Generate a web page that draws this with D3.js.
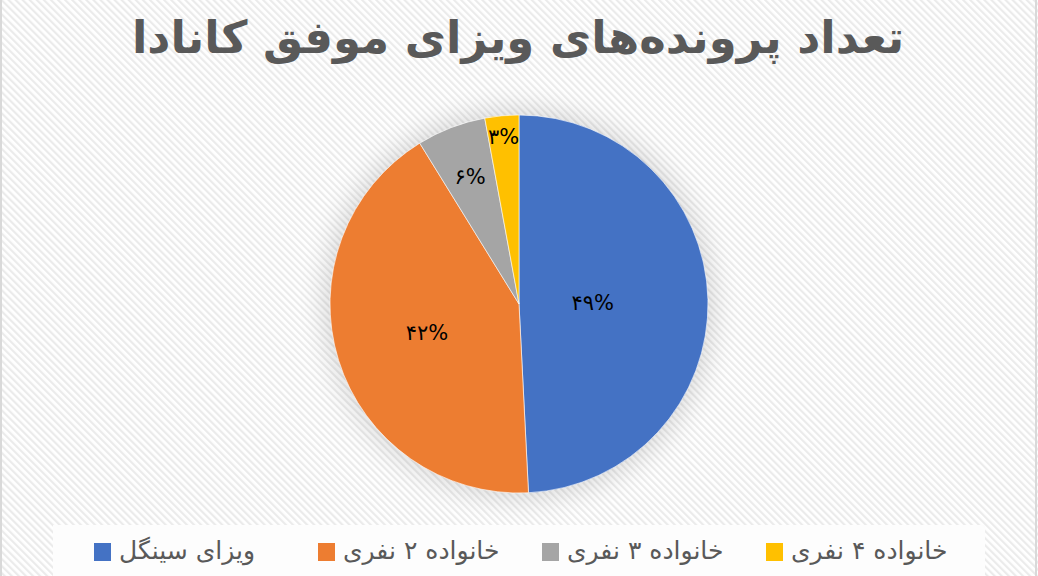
<!DOCTYPE html>
<html><head><meta charset="utf-8">
<script src="https://cdn.jsdelivr.net/npm/d3@7"></script>
<style>html,body{margin:0;padding:0;background:#fff;}svg{display:block;}</style>
</head><body>
<svg id="c" width="1038" height="576"></svg>
<script>
const title = "تعداد پرونده‌های ویزای موفق کانادا";
const categories = ["ویزای سینگل", "خانواده ۲ نفری", "خانواده ۳ نفری", "خانواده ۴ نفری"];
const values = [49.2, 42.0, 5.9, 2.9];
const labels = ["۴۹%", "۴۲%", "۶%", "۳%"];
const colors = ["#4472C4", "#ED7D31", "#A5A5A5", "#FFC000"];

const W = 1038, H = 576;
const svg = d3.select("#c");
const defs = svg.append("defs");
const pat = defs.append("pattern").attr("id","stripes").attr("width",5).attr("height",5)
  .attr("patternUnits","userSpaceOnUse").attr("patternTransform","rotate(-45)");
pat.append("rect").attr("width",5).attr("height",5).attr("fill","#ffffff");
pat.append("rect").attr("width",2.2).attr("height",5).attr("fill","#ebebeb");
const blur = defs.append("filter").attr("id","glow").attr("x","-50%").attr("y","-50%").attr("width","200%").attr("height","200%");
blur.append("feGaussianBlur").attr("stdDeviation",14);

svg.append("rect").attr("x",0).attr("y",0).attr("width",W).attr("height",H).attr("fill","url(#stripes)");
svg.append("rect").attr("x",1).attr("y",-2).attr("width",W-3).attr("height",H+4)
  .attr("fill","none").attr("stroke","#d9d9d9").attr("stroke-width",2);

svg.append("text").attr("x",518).attr("y",53).attr("text-anchor","middle")
  .attr("font-family","DejaVu Sans").attr("font-weight","bold").attr("font-size",45)
  .attr("fill","#595959").attr("direction","rtl").text(title);

const cx = 519, cy = 304, r = 189;
const g = svg.append("g").attr("transform",`translate(${cx},${cy})`);
g.append("circle").attr("r",r+4).attr("fill","#000").attr("opacity",0.15).attr("filter","url(#glow)");
const pie = d3.pie().sort(null).value(d=>d);
const arcs = pie(values);
const arc = d3.arc().innerRadius(0).outerRadius(r);
g.selectAll("path.s").data(arcs).join("path").attr("class","s")
  .attr("d",arc).attr("fill",(d,i)=>colors[i]).attr("stroke","#ffffff").attr("stroke-width",0.6);

const labFrac = [0.39, 0.51, 0.72, 0.89];
g.selectAll("text.l").data(arcs).join("text").attr("class","l")
  .attr("transform",(d,i)=>{
    const a = d3.arc().innerRadius(r*labFrac[i]).outerRadius(r*labFrac[i]);
    return `translate(${a.centroid(d)})`;
  })
  .attr("text-anchor","middle").attr("dy","0.35em")
  .attr("font-family","DejaVu Sans").attr("font-size",21).attr("fill","#000")
  .text((d,i)=>labels[i]);

// legend
svg.append("rect").attr("x",53).attr("y",525).attr("width",932).attr("height",60).attr("fill","#fdfdfd");
const lx = d3.scalePoint().domain(categories).range([94,766]);
const lg = svg.selectAll("g.lg").data(categories).join("g").attr("class","lg")
  .attr("transform",d=>`translate(${lx(d)},0)`);
lg.append("rect").attr("x",0).attr("y",543).attr("width",17).attr("height",18).attr("fill",(d,i)=>colors[i]);
lg.append("text").attr("x",25).attr("y",559).attr("text-anchor","start")
  .attr("font-family","DejaVu Sans").attr("font-size",25).attr("fill","#595959")
  .attr("direction","ltr").attr("unicode-bidi","plaintext").text(d=>d);
</script>
</body></html>
